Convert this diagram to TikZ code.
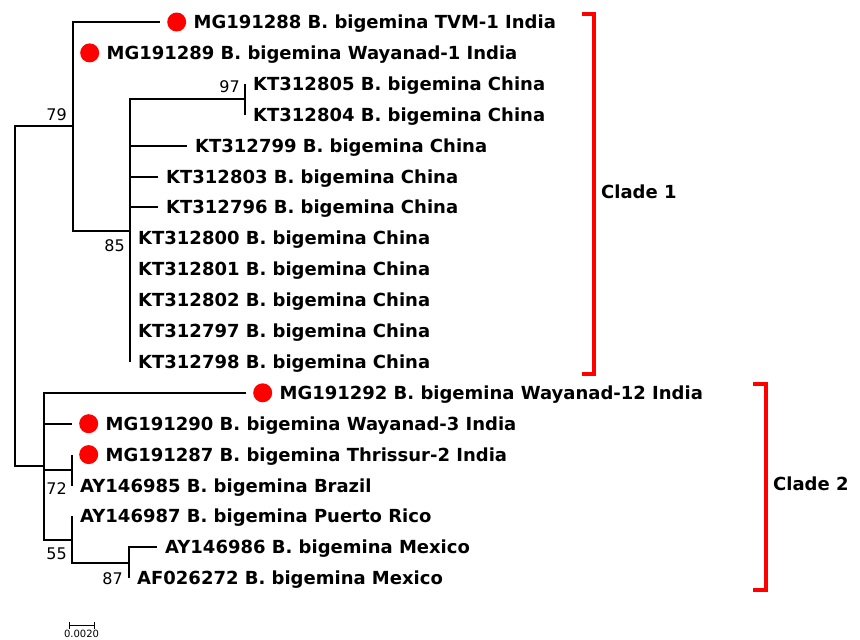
\documentclass[tikz,border=0pt]{standalone}
\usepackage{fontspec}
\setmainfont{DejaVu Sans}
\usetikzlibrary{positioning}
\begin{document}
\begin{tikzpicture}[x=1pt, y=-1pt,
  branch/.style={line width=2pt},
  leaf/.style={inner sep=0pt, font=\fontsize{18}{20}\selectfont\bfseries, text height=13.1pt, text depth=0pt},
  tipdot/.style={circle, fill=red, inner sep=0pt, minimum size=19pt},
  boot/.style={inner sep=0pt, font=\fontsize{16}{18}\selectfont},
  cladebar/.style={red, line width=4pt},
  clade/.style={inner sep=0pt, anchor=west, font=\fontsize{18}{20}\selectfont\bfseries, text height=13.1pt, text depth=0pt}]
\useasboundingbox (0,0) rectangle (860,640);
\coordinate (root) at (15,296.3);
\coordinate (n79) at (73,126.3);
\coordinate (n85) at (130,230.6);
\coordinate (n97) at (245,99.25);
\coordinate (c2) at (44,466.2);
\coordinate (n72) at (72,470);
\coordinate (n55) at (72,539.6);
\coordinate (n87) at (129,562.75);
\foreach \r/\bx/\lab/\mk in {0/160/{MG191288 B. bigemina TVM-1 India}/1, 1/73/{MG191289 B. bigemina Wayanad-1 India}/1,
  2/245/{KT312805 B. bigemina China}/0, 3/245/{KT312804 B. bigemina China}/0, 4/187/{KT312799 B. bigemina China}/0,
  5/158/{KT312803 B. bigemina China}/0, 6/158/{KT312796 B. bigemina China}/0, 7/130/{KT312800 B. bigemina China}/0,
  8/130/{KT312801 B. bigemina China}/0, 9/130/{KT312802 B. bigemina China}/0, 10/130/{KT312797 B. bigemina China}/0,
  11/130/{KT312798 B. bigemina China}/0, 12/246/{MG191292 B. bigemina Wayanad-12 India}/1,
  13/72/{MG191290 B. bigemina Wayanad-3 India}/1, 14/72/{MG191287 B. bigemina Thrissur-2 India}/1,
  15/72/{AY146985 B. bigemina Brazil}/0, 16/72/{AY146987 B. bigemina Puerto Rico}/0,
  17/157/{AY146986 B. bigemina Mexico}/0, 18/129/{AF026272 B. bigemina Mexico}/0} {
  \coordinate (t\r) at (\bx,{22+30.9*\r});
  \ifnum\mk=1
    \node[tipdot, right=7pt of t\r] (d\r) {};
    \node[leaf, right=7pt of d\r] (l\r) {\lab};
  \else
    \node[leaf, right=8pt of t\r] (l\r) {\lab};
  \fi
}
\foreach \p/\c in {root/n79, root/c2, n79/t0, n79/t1, n79/n85, n85/n97, n85/t4, n85/t5, n85/t6, n85/t7, n85/t8, n85/t9,
  n85/t10, n85/t11, n97/t2, n97/t3, c2/t12, c2/t13, c2/n72, c2/n55, n72/t14, n72/t15, n55/t16, n55/n87, n87/t17, n87/t18}
  \draw[branch] (\p) |- (\c);
\foreach \n/\an/\dx/\dy in {79/south east/-6/5, 97/south east/-5/6, 85/north east/-5/-9, 72/north east/-5/-12,
  55/north east/-5/-8, 87/north east/-6/-10}
  \node[boot, anchor=\an] (b\n) at ([xshift=\dx pt, yshift=\dy pt]n\n) {\n};
\coordinate (s0) at (69,625);
\coordinate (s1) at (94,625);
\coordinate (smid) at (81.5,625);
\draw[line width=1pt] (s0) -- (s1) ([yshift=3.5pt]s0) -- ([yshift=-3.5pt]s0) ([yshift=3.5pt]s1) -- ([yshift=-3.5pt]s1);
\node[inner sep=0pt, font=\fontsize{10}{11}\selectfont, below=5pt of smid] (scale) {0.0020};
\draw[cladebar] (581.7,13.7) -- (593.7,13.7) -- (593.7,373.7) -- (581.7,373.7);
\draw[cladebar] (753.3,384.3) -- (765.7,384.3) -- (765.7,590.3) -- (753.3,590.3);
\node[clade] (cl1) at (601,191.5) {Clade 1};
\node[clade] (cl2) at (773,484) {Clade 2};
\end{tikzpicture}
\end{document}
